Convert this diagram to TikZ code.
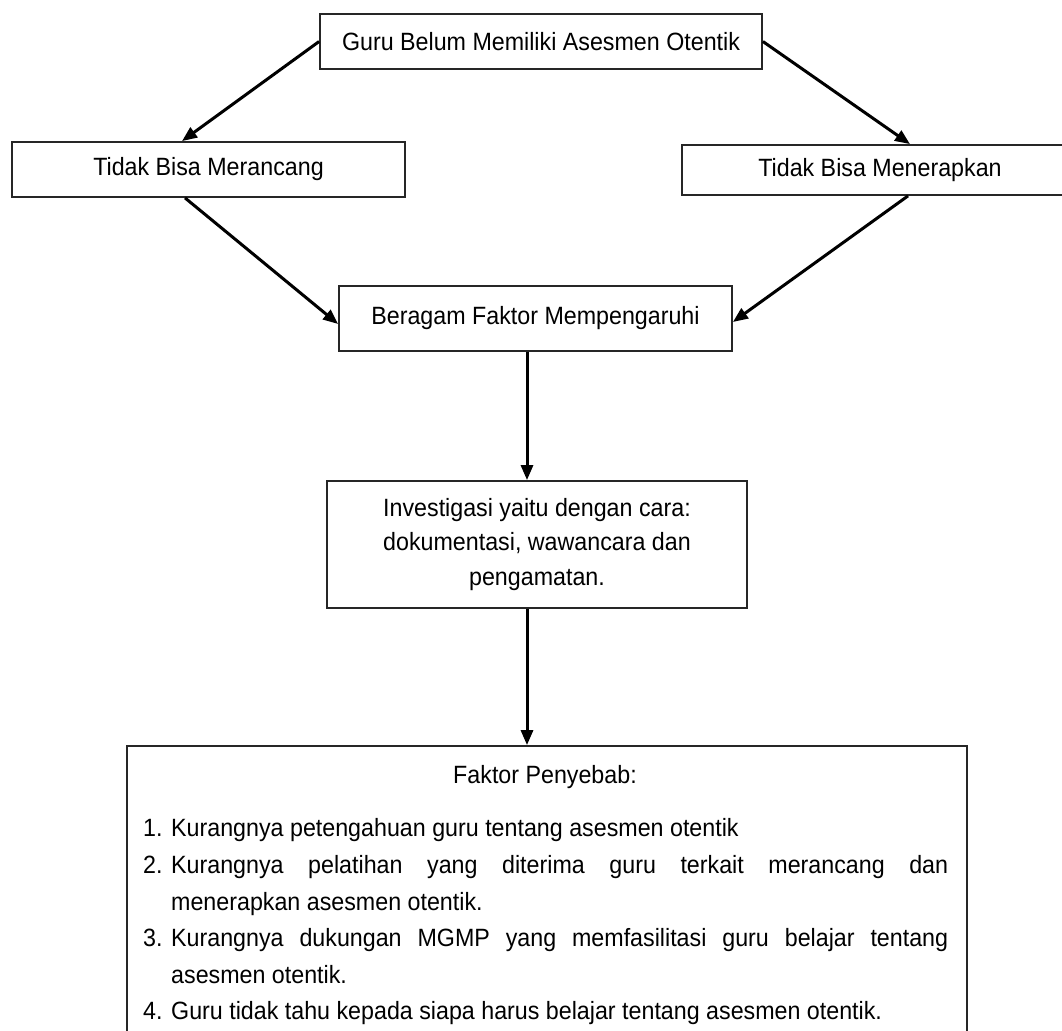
\documentclass[tikz,border=0pt]{standalone}
\usepackage{fontspec}
\setmainfont{Liberation Sans}[FakeStretch=0.93]
\usetikzlibrary{arrows.meta}
\newenvironment{causelist}{%
  \begin{list}{\arabic{enumi}.}{\usecounter{enumi}%
    \setlength\leftmargin{28pt}\setlength\labelwidth{21pt}%
    \setlength\labelsep{7pt}\setlength\itemsep{0pt}%
    \setlength\parsep{0pt}\setlength\topsep{0pt}\setlength\partopsep{0pt}%
    \def\makelabel##1{##1\hfil}}}{\end{list}}
\begin{document}
\begin{tikzpicture}[x=1pt,y=-1pt,
  box/.style={draw=black!85, line width=1.8pt, inner sep=0pt, align=center,
    font=\fontsize{25}{34.5}\selectfont},
  plain/.style={inner sep=0pt, font=\fontsize{25}{36.6}\selectfont},
  conn/.style={line width=3pt, -{Triangle[length=15pt,width=12pt]}}]
\fill[white] (0,0) rectangle (1062,1030);
\clip (0,0) rectangle (1062,1030);

\node[box, minimum width=442pt, minimum height=55pt] (top) at (541,41.5)
  {Guru Belum Memiliki Asesmen Otentik};
\node[box, minimum width=393pt, minimum height=55pt] (left) at (208.5,169.5)
  {Tidak Bisa Merancang};
\node[box, minimum width=396pt, minimum height=50pt] (right) at (880,170)
  {Tidak Bisa Menerapkan};
\node[box, minimum width=393pt, minimum height=65pt] (mid) at (535.5,318.5)
  {Beragam Faktor Mempengaruhi};
\node[box, minimum width=420pt, minimum height=127pt] (inv) at (537,544.5)
  {Investigasi yaitu dengan cara:\\dokumentasi, wawancara dan\\pengamatan.};
\node[box, minimum width=840pt, minimum height=294pt] (causes) at (547,893) {};

\node[plain, anchor=base] (title) at (545,783) {Faktor Penyebab:};
\node[plain, anchor=north west, text width=805pt, align=justify] (items) at (143,800)
{\hyphenpenalty=10000\exhyphenpenalty=10000\parskip=0pt
\begin{causelist}
\item Kurangnya petengahuan guru tentang asesmen otentik
\item Kurangnya pelatihan yang diterima guru terkait merancang dan\linebreak
 menerapkan asesmen otentik.
\item Kurangnya dukungan MGMP yang memfasilitasi guru belajar tentang\linebreak
 asesmen otentik.
\item Guru tidak tahu kepada siapa harus belajar tentang asesmen otentik.
\end{causelist}};

\draw[conn] (top.west) -- ([xshift=-26.5pt]left.north);
\draw[conn] (top.east) -- ([xshift=30pt]right.north);
\draw[conn] ([xshift=-23.5pt]left.south) -- ([yshift=-5.5pt]mid.west);
\draw[conn] ([xshift=28pt]right.south) -- ([yshift=-3.5pt]mid.east);
\draw[conn] ([xshift=-8.5pt]mid.south) -- ([xshift=-8.5pt]mid.south |- inv.north);
\draw[conn] ([xshift=-10pt]inv.south) -- ([xshift=-10pt]inv.south |- causes.north);
\end{tikzpicture}
\end{document}
